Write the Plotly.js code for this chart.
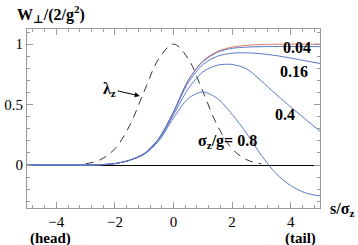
<!DOCTYPE html>
<html>
<head>
<meta charset="utf-8">
<script src="https://cdn.plot.ly/plotly-3.0.1.min.js"></script>
<style>html,body{margin:0;padding:0;background:#fff;}#chart{width:358px;height:245px;}</style>
</head>
<body>
<div id="chart"></div>
<script>
// s/sigma_z sample positions
const s = [-5,-4.5,-4,-3.5,-3,-2.5,-2,-1.5,-1,-0.5,0,0.5,1,1.5,2,2.5,3,3.5,4,4.5,5];
// bunch profile lambda_z (dashed)
const sLambda = [-3,-2.5,-2,-1.5,-1,-0.5,0,0.5,1,1.5,2,2.5,3];
const lambdaZ = [0.01,0.044,0.135,0.325,0.61,0.88,1.0,0.88,0.61,0.325,0.135,0.044,0.01];
// wake curves
const wRed  = [0,0,0,0,0,0.003,0.012,0.04,0.095,0.22,0.44,0.70,0.86,0.94,0.975,0.99,0.997,0.999,1.0,1.0,1.0];
const w004  = [0,0,0,0,0,0.003,0.012,0.04,0.095,0.22,0.44,0.70,0.855,0.932,0.965,0.975,0.979,0.98,0.98,0.98,0.979];
const w016  = [0,0,0,0,0,0.003,0.012,0.04,0.094,0.218,0.435,0.68,0.83,0.9,0.925,0.928,0.92,0.905,0.885,0.862,0.84];
const w04   = [0,0,0,0,0,0.003,0.012,0.04,0.092,0.212,0.415,0.63,0.77,0.826,0.832,0.795,0.695,0.585,0.48,0.38,0.28];
const w08   = [0,0,0,0,0,0.003,0.012,0.04,0.088,0.2,0.39,0.55,0.605,0.55,0.42,0.26,0.08,-0.07,-0.17,-0.23,-0.255];

const blue = '#5a78c8';
const red = '#e07a5f';
const font = '"Liberation Serif", "DejaVu Serif", serif';

function wake(y, color) {
  return {x: s, y: y, type: 'scatter', mode: 'lines', line: {color: color, width: 1, shape: 'spline', smoothing: 0.8}, hoverinfo: 'skip'};
}
const traces = [
  {x: sLambda, y: lambdaZ, type: 'scatter', mode: 'lines', line: {color: '#333', width: 1, dash: '8px,6px', shape: 'spline'}, hoverinfo: 'skip'},
  wake(wRed, red),
  wake(w004, blue),
  wake(w016, blue),
  wake(w04, blue),
  wake(w08, blue)
];

const axisCommon = {
  showgrid: false, showline: true, linecolor: '#999', linewidth: 1, mirror: 'allticks',
  ticks: 'inside', ticklen: 6, tickcolor: '#999', tickwidth: 1,
  tickfont: {family: font, size: 15, color: '#000'}
};
const ann = (text, x, y, size, extra) => Object.assign({text: text, x: x, y: y, xref: 'paper', yref: 'paper', xanchor: 'left', yanchor: 'middle', showarrow: false, font: {family: font, size: size, color: '#000'}}, extra || {});

const layout = {
  width: 358, height: 245,
  margin: {l: 27, r: 38, t: 29, b: 37},
  paper_bgcolor: '#fff', plot_bgcolor: '#fff',
  showlegend: false,
  font: {family: font},
  xaxis: Object.assign({}, axisCommon, {range: [-5, 5], dtick: 2, tick0: 0, zeroline: false,
    minor: {dtick: 0.4, tick0: 0, ticks: 'inside', ticklen: 3, tickcolor: '#999', showgrid: false}}),
  yaxis: Object.assign({}, axisCommon, {range: [-0.355, 1.125], dtick: 0.5, tick0: 0, zeroline: true, zerolinecolor: '#000', zerolinewidth: 1,
    minor: {dtick: 0.1, tick0: 0, ticks: 'inside', ticklen: 3, tickcolor: '#999', showgrid: false}}),
  annotations: [
    ann('<b>W<sub>⊥</sub>/(2/g<sup>2</sup>)</b>', -0.041, 1.084, 16),
    ann('<b>0.04</b>', 0.867, 0.899, 16),
    ann('<b>0.16</b>', 0.857, 0.760, 16),
    ann('<b>0.4</b>', 0.840, 0.525, 16),
    ann('<b>σ<sub>z</sub>/g= 0.8</b>', 0.577, 0.369, 16),
    ann('<b>s/σ<sub>z</sub></b>', 1.027, -0.011, 16),
    ann('<b>(head)</b>', 0.003, -0.168, 15),
    ann('<b>(tail)</b>', 0.874, -0.168, 15),
    {text: '<b>λ<sub>z</sub></b>', x: -1.12, y: 0.57, xref: 'x', yref: 'y', showarrow: true, arrowhead: 2, arrowsize: 1, arrowwidth: 1, arrowcolor: '#000',
     ax: -31, ay: -7, standoff: 1, font: {family: font, size: 16, color: '#000'}}
  ]
};

Plotly.newPlot('chart', traces, layout, {displayModeBar: false, staticPlot: true});
</script>
</body>
</html>
